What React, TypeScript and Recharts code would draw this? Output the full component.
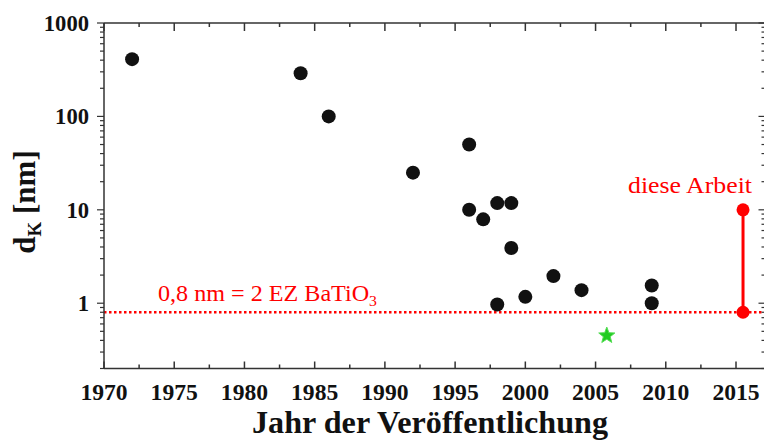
import React from "react";
import {
  ScatterChart,
  Scatter,
  XAxis,
  YAxis,
  ReferenceLine,
} from "recharts";

// ---- data ----
const litYears = [1972, 1984, 1986, 1992, 1996, 1996, 1997, 1998, 1999, 1999, 2002, 2000, 1998, 2004, 2009, 2009];
const litValues = [410, 290, 100, 25, 50, 10, 7.9, 11.8, 11.8, 3.9, 1.95, 1.17, 0.97, 1.38, 1.55, 1.0];
const starYears = [2005.8];
const starValues = [0.45];
const thisWorkYears = [2015.5, 2015.5];
const thisWorkValues = [10, 0.8];
const limitValue = 0.8;

const xTicks = [1970, 1972.5, 1975, 1977.5, 1980, 1982.5, 1985, 1987.5, 1990, 1992.5, 1995, 1997.5, 2000, 2002.5, 2005, 2007.5, 2010, 2012.5, 2015];
const yTicks = [
  0.2, 0.3, 0.4, 0.5, 0.6, 0.7, 0.8, 0.9,
  1, 2, 3, 4, 5, 6, 7, 8, 9,
  10, 20, 30, 40, 50, 60, 70, 80, 90,
  100, 200, 300, 400, 500, 600, 700, 800, 900,
  1000,
];
const xTitle = "Jahr der Veröffentlichung";
const yTitleMain = "d";
const yTitleSub = "K";
const yTitleUnit = " [nm]";
const limitText = "0,8 nm = 2 EZ BaTiO";
const limitTextSub = "3";
const thisWorkText = "diese Arbeit";

const litData = litYears.map((x, i) => ({ x, y: litValues[i] }));
const starData = starYears.map((x, i) => ({ x, y: starValues[i] }));
const thisWorkData = thisWorkYears.map((x, i) => ({ x, y: thisWorkValues[i] }));

const FONT = "Liberation Serif, Times New Roman, serif";
const AXIS = "#333";
const RED = "#ff0000";

const isDecade = (v: number) => Math.abs(Math.log10(v) - Math.round(Math.log10(v))) < 1e-9;

const BottomTick = (props: any) => {
  const { x, y, payload } = props;
  const v = payload.value;
  const major = v % 5 === 0;
  const s = String(v);
  return (
    <g>
      <line x1={x} x2={x} y1={y} y2={y - (major ? 7 : 4)} stroke={AXIS} strokeWidth={1.5} />
      {major && (
        <text
          x={x}
          y={y + 31}
          textAnchor="middle"
          fontFamily={FONT}
          fontWeight="bold"
          fontSize={24}
          fill="#111"
          textLength={s.length * 11.8}
          lengthAdjust="spacingAndGlyphs"
        >
          {s}
        </text>
      )}
    </g>
  );
};

const TopTick = (props: any) => {
  const { x, y, payload } = props;
  const major = payload.value % 5 === 0;
  return <line x1={x} x2={x} y1={y} y2={y + (major ? 8 : 4)} stroke={AXIS} strokeWidth={1.5} />;
};

const LeftTick = (props: any) => {
  const { x, y, payload } = props;
  const v = payload.value;
  const major = isDecade(v);
  const s = String(v);
  return (
    <g>
      <line x1={x - (major ? 7 : 4)} x2={x} y1={y} y2={y} stroke={AXIS} strokeWidth={1.2} />
      {major && (
        <text
          x={x - 15}
          y={y + 8}
          textAnchor="end"
          fontFamily={FONT}
          fontWeight="bold"
          fontSize={24}
          fill="#111"
          textLength={s.length * 11.3}
          lengthAdjust="spacingAndGlyphs"
        >
          {s}
        </text>
      )}
    </g>
  );
};

const RightTick = (props: any) => {
  const { x, y, payload } = props;
  const major = isDecade(payload.value);
  return <line x1={x - (major ? 7 : 4)} x2={x} y1={y} y2={y} stroke={AXIS} strokeWidth={1.2} />;
};

const XTitle = () => (
  <text
    x={430}
    y={433}
    textAnchor="middle"
    fontFamily={FONT}
    fontWeight="bold"
    fontSize={31}
    fill="#111"
    textLength={356}
    lengthAdjust="spacingAndGlyphs"
  >
    {xTitle}
  </text>
);

const YTitle = () => (
  <text
    transform="translate(35,202) rotate(-90)"
    textAnchor="middle"
    fontFamily={FONT}
    fontWeight="bold"
    fontSize={31}
    fill="#111"
  >
    {yTitleMain}
    <tspan fontSize={19} dy={6}>{yTitleSub}</tspan>
    <tspan dy={-6}>{yTitleUnit}</tspan>
  </text>
);

const RedTexts = () => (
  <g>
    <text
      x={158}
      y={301}
      fontFamily={FONT}
      fontSize={23}
      fill={RED}
      textLength={219}
      lengthAdjust="spacingAndGlyphs"
    >
      {limitText}
      <tspan fontSize={15} dy={5}>{limitTextSub}</tspan>
    </text>
    <text
      x={628}
      y={193}
      fontFamily={FONT}
      fontSize={23}
      fill={RED}
      textLength={124}
      lengthAdjust="spacingAndGlyphs"
    >
      {thisWorkText}
    </text>
  </g>
);

const BlackDot = (props: any) => <circle cx={props.cx} cy={props.cy} r={7} fill="#111" />;
const RedDot = (props: any) => <circle cx={props.cx} cy={props.cy} r={6.5} fill={RED} />;
const Star = (props: any) => {
  const { cx, cy } = props;
  const pts: string[] = [];
  for (let i = 0; i < 10; i++) {
    const r = i % 2 === 0 ? 8.5 : 3.6;
    const a = -Math.PI / 2 + (i * Math.PI) / 5;
    pts.push(`${cx + r * Math.cos(a)},${cy + r * Math.sin(a)}`);
  }
  return <polygon points={pts.join(" ")} fill="#22cc22" stroke="#55dd55" strokeWidth={1} />;
};

export default function App() {
  return (
    <div style={{ position: "absolute", left: 0, top: 0, width: 764, height: 441, overflow: "hidden", background: "#fff" }}>
      <ScatterChart
        width={780}
        height={441}
        margin={{ top: 22, left: 103, right: 13.5, bottom: 71.5 }}
      >
        <XAxis
          xAxisId="bottom"
          dataKey="x"
          type="number"
          domain={[1970, 2017.1]}
          allowDataOverflow
          ticks={xTicks}
          interval={0}
          height={1}
          tickSize={0}
          tickMargin={0}
          tickLine={false}
          tick={<BottomTick />}
          axisLine={{ stroke: AXIS, strokeWidth: 1.5 }}
          label={<XTitle />}
        />
        <XAxis
          xAxisId="top"
          orientation="top"
          dataKey="x"
          type="number"
          domain={[1970, 2017.1]}
          allowDataOverflow
          ticks={xTicks}
          interval={0}
          height={1}
          tickSize={0}
          tickMargin={0}
          tickLine={false}
          tick={<TopTick />}
          axisLine={{ stroke: AXIS, strokeWidth: 1.5 }}
        />
        <YAxis
          yAxisId="left"
          dataKey="y"
          type="number"
          scale="log"
          domain={[0.2, 1000]}
          allowDataOverflow
          ticks={yTicks}
          interval={0}
          width={1}
          tickSize={0}
          tickMargin={0}
          tickLine={false}
          tick={<LeftTick />}
          axisLine={{ stroke: AXIS, strokeWidth: 1.5 }}
          label={<YTitle />}
        />
        <YAxis
          yAxisId="right"
          orientation="right"
          dataKey="y"
          type="number"
          scale="log"
          domain={[0.2, 1000]}
          allowDataOverflow
          ticks={yTicks}
          interval={0}
          width={1}
          tickSize={0}
          tickMargin={0}
          tickLine={false}
          tick={<RightTick />}
          axisLine={{ stroke: AXIS, strokeWidth: 1.5 }}
        />
        <ReferenceLine
          xAxisId="bottom"
          yAxisId="left"
          y={limitValue}
          stroke={RED}
          strokeWidth={2.5}
          strokeDasharray="2.5 2.5"
          label={<RedTexts />}
        />
        <Scatter
          xAxisId="bottom"
          yAxisId="left"
          data={litData}
          shape={<BlackDot />}
          isAnimationActive={false}
        />
        <Scatter
          xAxisId="bottom"
          yAxisId="left"
          data={starData}
          shape={<Star />}
          isAnimationActive={false}
        />
        <Scatter
          xAxisId="bottom"
          yAxisId="left"
          data={thisWorkData}
          line={{ stroke: RED, strokeWidth: 3 }}
          lineType="joint"
          shape={<RedDot />}
          isAnimationActive={false}
        />
      </ScatterChart>
    </div>
  );
}
